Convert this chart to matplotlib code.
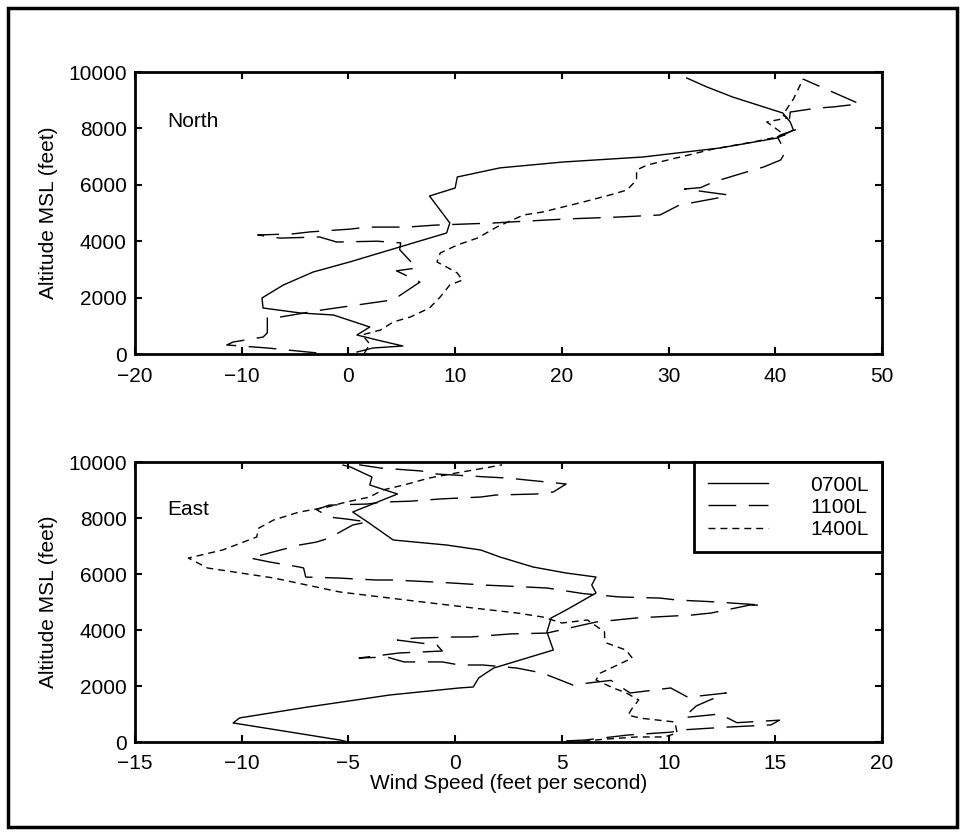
import matplotlib
matplotlib.use("Agg")
import matplotlib.pyplot as plt
from matplotlib.patches import Rectangle

plt.rcParams['font.family'] = ['Liberation Sans', 'DejaVu Sans']

# ---------------- data (wind speed in ft/s, altitude in feet MSL) ----------------
north_0700_speed = [0.8, 2.3, 5.1, 2.7, 0.8, 2.0, -1.4, -4.5, -8.0, -8.1, -6.1, -3.3, 0.1, 4.8,
                    9.2, 9.5, 8.8, 7.6, 10.0, 10.2, 14.2, 16.1, 20.1, 27.6, 34.8, 40.2, 41.7,
                    41.4, 40.7, 36.0, 33.6, 31.7]
north_0700_alt = [70, 213, 284, 496, 674, 957, 1383, 1454, 1631, 1986, 2447, 2908, 3262, 3794,
                  4291, 4645, 5000, 5603, 5886, 6277, 6600, 6667, 6808, 6986, 7305, 7660, 7943,
                  8227, 8546, 9113, 9468, 9787]

north_1100_speed = [-3.0, -7.6, -11.4, -10.8, -8.0, -7.6, -7.6, -7.6, -6.4, -2.5, 2.7, 4.2, 6.7,
                    4.5, 6.4, 4.8, 4.9, 2.7, -1.1, -2.7, -6.4, -8.5, -5.2, -3.6, 0.2, 1.7, 5.5,
                    8.1, 13.6, 15.1, 20.5, 25.5, 29.2, 31.0, 35.0, 35.6, 31.5, 33.0, 34.2, 37.0,
                    38.9, 40.5, 40.9, 40.6, 40.2, 40.5, 41.9, 41.3, 41.4, 43.9, 45.4, 47.9, 42.6]
north_1100_alt = [40, 213, 320, 425, 600, 750, 920, 1280, 1310, 1560, 1840, 1920, 2550,
                  2950, 3050, 3700, 3940, 4000, 3970, 4150, 4110, 4220, 4260, 4330, 4430, 4500, 4500,
                  4570, 4645, 4680, 4790, 4860, 4930, 5280, 5560, 5640, 5850, 5900, 6100, 6420,
                  6630, 6880, 7130, 7410, 7700, 7770, 7950, 8230, 8580, 8720, 8760, 8870, 9750]

north_1400_speed = [1.5, 2.0, 1.3, 3.0, 4.2, 5.8, 7.6, 8.6, 9.5, 10.7, 10.2, 9.2, 8.3, 8.6, 10.2,
                    12.1, 13.9, 16.4, 18.2, 22.0, 24.5, 26.1, 27.0, 27.0, 28.0, 31.1, 34.2, 37.9,
                    40.2, 40.9, 39.2, 41.1, 40.7, 41.7, 42.6]
north_1400_alt = [30, 350, 680, 850, 1135, 1312, 1631, 2021, 2447, 2624, 2872, 3085, 3262, 3581,
                  3865, 4113, 4503, 4929, 5035, 5390, 5638, 5815, 6170, 6525, 6702, 6986, 7270,
                  7517, 7695, 7766, 8227, 8369, 8475, 9042, 9750]

east_0700_speed = [-5.0, -5.4, -10.4, -10.1, -6.9, -3.05, 0.2, 0.85, 1.1, 1.8, 4.6, 4.3, 4.5, 5.2,
                   6.6, 6.4, 6.6, 5.2, 3.65, 2.1, 1.2, -0.4, -2.9, -4.1, -4.8, -2.7, -4.0, -3.9,
                   -4.9, -5.25]
east_0700_alt = [0, 70, 680, 860, 1250, 1680, 1930, 1965, 2285, 2640, 3285, 3930, 4430, 4714,
                 5321, 5607, 5892, 6035, 6250, 6607, 6857, 7035, 7214, 7857, 8214, 8857, 9178, 9464,
                 9820, 9890]

east_1100_speed = [5.2, 6.1, 8.1, 10.1, 10.6, 12.7, 14.8, 15.2, 13.2, 12.4, 10.7, 11.3, 12.7, 10.9,
                   10.1, 8.2, 7.3, 5.5, 4.1, 2.9, 1.3, 0.2, -0.6, -2.4, -3.2, -4.5, -2.6, -0.6,
                   -0.85, -2.7, -1.9, 0.0, 0.7, 2.6, 4.3, 6.6, 8.5, 11.1, 12.0, 13.8, 14.4, 13.0,
                   12.3, 10.4, 9.6, 7.7, 6.0, 4.3, 2.4, 1.5, -0.2, -1.0, -2.9, -3.7, -5.5, -7.0,
                   -7.1, -7.3, -8.7, -9.6, -7.3, -6.5, -5.9, -4.8, -4.1, -5.1, -5.9, -6.5, -5.9,
                   -4.1, -3.4, -2.1, -0.7, 1.2, 1.9, 3.8, 4.6, 5.2, 4.3, 2.4, 1.6, -0.85, -1.6,
                   -3.5, -4.5]
east_1100_alt = [40, 70, 250, 350, 430, 530, 610, 780, 690, 1000, 870, 1290, 1750, 1600,
                 1930, 1750, 2200, 2040, 2460, 2640, 2750, 2750, 2860, 2860, 3035, 3000, 3180, 3250,
                 3460, 3640, 3710, 3750, 3750, 3860, 3890, 4285, 4430, 4535, 4607, 4890, 4890, 4960,
                 5000, 5070, 5140, 5180, 5300, 5500, 5570, 5600, 5680, 5714, 5785, 5785, 5857, 5890,
                 6214, 6250, 6430, 6570, 7035, 7140, 7285, 7750, 7860, 7964, 8035, 8300, 8460,
                 8500, 8570, 8600, 8680, 8750, 8820, 8857, 8930, 9214, 9285, 9430, 9460, 9570, 9680,
                 9785, 9900]

east_1400_speed = [6.0, 7.0, 8.5, 9.8, 10.4, 10.3, 8.7, 8.1, 8.3, 8.6, 8.0, 7.4, 6.6, 6.8, 8.3,
                   8.0, 7.1, 7.0, 7.0, 6.2, 5.0, 4.1, 2.9, 0.85, -2.3, -5.4, -8.5, -11.6, -12.5,
                   -10.9, -9.3, -9.2, -8.5, -7.3, -6.0, -5.1, -4.0, -3.4, -2.4, -1.2, 0.0, 1.5, 2.2]
east_1400_alt = [30, 100, 180, 180, 320, 715, 850, 960, 1210, 1500, 1760, 1930, 2215, 2460, 3000,
                 3285, 3535, 3750, 3930, 4357, 4250, 4464, 4607, 4785, 5071, 5357, 5857, 6214, 6570,
                 6857, 7320, 7640, 7930, 8214, 8390, 8570, 8750, 9000, 9180, 9430, 9600, 9800, 9900]

series_labels = ['0700L', '1100L', '1400L']
north_xticks = [-20, -10, 0, 10, 20, 30, 40, 50]
east_xticks = [-15, -10, -5, 0, 5, 10, 15, 20]
alt_ticks = [0, 2000, 4000, 6000, 8000, 10000]

# ---------------- figure ----------------
W, H = 965, 835
fig = plt.figure(figsize=(W / 100, H / 100), dpi=100)
fig.patch.set_facecolor('white')

ax1 = fig.add_axes([135 / W, 1 - 354 / H, 747 / W, 282 / H])
ax2 = fig.add_axes([135 / W, 1 - 742 / H, 747 / W, 280 / H])

styles = [dict(linestyle='-'),
          dict(linestyle=(0, (20, 9))),
          dict(linestyle=(0, (5, 3.6)))]

FS = 15

def style_axes(ax, xticks, xlim, xpad):
    ax.set_xlim(*xlim)
    ax.set_ylim(0, 10000)
    ax.set_xticks(xticks)
    ax.set_yticks(alt_ticks)
    ax.tick_params(direction='in', top=True, right=True, length=5, width=1.5,
                   labelsize=FS)
    ax.tick_params(axis='x', pad=xpad)
    ax.tick_params(axis='y', pad=6)
    for s in ax.spines.values():
        s.set_linewidth(2)
        s.set_color('black')
    ax.set_ylabel('Altitude MSL (feet)', fontsize=FS, labelpad=7)

north = [(north_0700_speed, north_0700_alt), (north_1100_speed, north_1100_alt),
         (north_1400_speed, north_1400_alt)]
east = [(east_0700_speed, east_0700_alt), (east_1100_speed, east_1100_alt),
        (east_1400_speed, east_1400_alt)]

for (x, y), st, lab in zip(north, styles, series_labels):
    ax1.plot(x, y, color='black', lw=1.0, label=lab, **st)
for (x, y), st, lab in zip(east, styles, series_labels):
    ax2.plot(x, y, color='black', lw=1.0, label=lab, **st)

style_axes(ax1, north_xticks, (-20, 50), 9)
style_axes(ax2, east_xticks, (-15, 20), 8.5)
ax2.set_xlabel('Wind Speed (feet per second)', fontsize=FS, labelpad=1)

ax1.text(0.043, 0.826, 'North', transform=ax1.transAxes, fontsize=FS,
         ha='left', va='center')
ax2.text(0.043, 0.832, 'East', transform=ax2.transAxes, fontsize=FS,
         ha='left', va='center')

leg = ax2.legend(loc='upper right', borderaxespad=0, fancybox=False, framealpha=1,
                 edgecolor='black', fontsize=FS, handlelength=2.9, handletextpad=2.0,
                 labelspacing=0.15, borderpad=0.65)
leg.get_frame().set_linewidth(2)

fig.add_artist(Rectangle((8 / W, 1 - 827 / H), 949 / W, 819 / H,
                         transform=fig.transFigure, fill=False, lw=2.5, edgecolor='black'))

fig.savefig('out.png', dpi=100, facecolor='white')
